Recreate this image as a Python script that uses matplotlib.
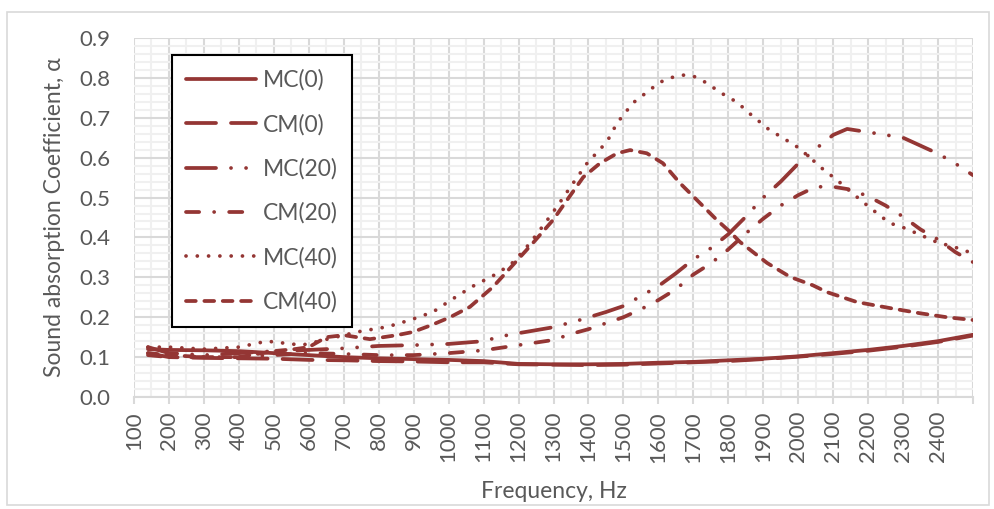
import numpy as np
import matplotlib.pyplot as plt
from matplotlib.ticker import MultipleLocator, FuncFormatter
from matplotlib.patches import Rectangle

plt.rcParams['font.family'] = ['Lato', 'DejaVu Sans']

# valeurs (frequence en Hz, coefficient alpha)
f_mc0 = [140, 200, 300, 400, 500, 600, 700, 800, 900, 1000, 1100, 1200, 1300, 1400, 1500,
         1600, 1700, 1800, 1900, 2000, 2100, 2200, 2300, 2400, 2500]
a_mc0 = [0.120, 0.118, 0.117, 0.115, 0.110, 0.105, 0.100, 0.097, 0.095, 0.093, 0.090, 0.083,
         0.082, 0.082, 0.083, 0.086, 0.088, 0.092, 0.096, 0.102, 0.110, 0.118, 0.128, 0.140, 0.156]

f_cm0 = [140, 200, 300, 400, 500, 600, 700, 800, 900, 1000, 1100, 1200, 1300, 1400, 1500,
         1600, 1700, 1800, 1900, 2000, 2100, 2200, 2300, 2400, 2500]
a_cm0 = [0.110, 0.100, 0.098, 0.097, 0.096, 0.093, 0.092, 0.090, 0.089, 0.087, 0.087, 0.082,
         0.081, 0.080, 0.081, 0.084, 0.087, 0.090, 0.095, 0.101, 0.108, 0.116, 0.126, 0.138, 0.154]

f_mc20 = [140, 200, 300, 400, 500, 600, 700, 800, 900, 1000, 1100, 1150, 1200, 1300, 1375,
          1450, 1500, 1550, 1600, 1650, 1700, 1750, 1800, 1850, 1900, 1950, 2000, 2050, 2100,
          2140, 2200, 2250, 2300, 2350, 2400, 2450, 2500]
a_mc20 = [0.125, 0.110, 0.105, 0.110, 0.115, 0.118, 0.122, 0.128, 0.130, 0.133, 0.140, 0.152,
          0.160, 0.175, 0.193, 0.213, 0.228, 0.253, 0.278, 0.310, 0.345, 0.373, 0.408, 0.452,
          0.500, 0.540, 0.585, 0.622, 0.657, 0.672, 0.664, 0.657, 0.650, 0.630, 0.610, 0.585, 0.556]

f_cm20 = [140, 200, 300, 400, 500, 600, 700, 800, 900, 1000, 1100, 1200, 1300, 1350, 1400,
          1450, 1500, 1550, 1600, 1650, 1700, 1750, 1800, 1850, 1900, 1950, 2000, 2050, 2100,
          2150, 2200, 2250, 2300, 2350, 2400, 2450, 2500]
a_cm20 = [0.105, 0.100, 0.100, 0.100, 0.105, 0.110, 0.108, 0.105, 0.105, 0.110, 0.117, 0.130,
          0.143, 0.158, 0.170, 0.185, 0.200, 0.220, 0.243, 0.270, 0.307, 0.335, 0.370, 0.410,
          0.447, 0.480, 0.506, 0.527, 0.527, 0.520, 0.503, 0.480, 0.452, 0.420, 0.395, 0.363, 0.338]

f_mc40 = [140, 200, 300, 400, 480, 530, 580, 620, 700, 750, 825, 890, 955, 1010, 1070, 1140,
          1185, 1233, 1276, 1313, 1356, 1396, 1453, 1482, 1527, 1567, 1604, 1642, 1670, 1699,
          1739, 1776, 1825, 1862, 1917, 1957, 1997, 2034, 2071, 2111, 2148, 2185, 2225, 2262,
          2300, 2340, 2397, 2450, 2500]
a_mc40 = [0.125, 0.125, 0.120, 0.125, 0.140, 0.135, 0.130, 0.138, 0.155, 0.165, 0.176, 0.193,
          0.213, 0.245, 0.278, 0.310, 0.338, 0.386, 0.436, 0.481, 0.536, 0.586, 0.640, 0.687,
          0.737, 0.764, 0.789, 0.802, 0.807, 0.805, 0.787, 0.764, 0.739, 0.710, 0.670, 0.649,
          0.627, 0.600, 0.571, 0.544, 0.516, 0.489, 0.461, 0.436, 0.425, 0.410, 0.388, 0.375, 0.360]

f_cm40 = [140, 200, 300, 400, 500, 560, 600, 650, 700, 775, 852, 898, 950, 1004, 1061, 1127,
          1184, 1241, 1299, 1339, 1385, 1433, 1482, 1519, 1567, 1613, 1662, 1710, 1767, 1805,
          1833, 1911, 1977, 2042, 2082, 2168, 2262, 2348, 2425, 2500]
a_cm40 = [0.110, 0.105, 0.100, 0.100, 0.115, 0.120, 0.125, 0.150, 0.155, 0.145, 0.155, 0.163,
          0.180, 0.200, 0.226, 0.276, 0.331, 0.386, 0.444, 0.494, 0.551, 0.586, 0.611, 0.619,
          0.611, 0.586, 0.536, 0.494, 0.444, 0.414, 0.389, 0.336, 0.301, 0.280, 0.263, 0.238,
          0.223, 0.210, 0.200, 0.193]

noms = ['MC(0)', 'CM(0)', 'MC(20)', 'CM(20)', 'MC(40)', 'CM(40)']

rouge = '#943634'
gris = '#595959'
taille = 16

fig = plt.figure(figsize=(9.94, 5.09), dpi=100)
ax = fig.add_axes([134 / 994, 1 - 397 / 509, (973 - 134) / 994, (397 - 38) / 509])

# cadre exterieur du graphique
fig.patches.append(Rectangle((7 / 994, 1 - 505 / 509), 982 / 994, 493 / 509,
                             transform=fig.transFigure, fill=False,
                             edgecolor='#d9d9d9', linewidth=1.2))

lw = 2.7
series = [
    (f_mc0, a_mc0, None),
    (f_cm0, a_cm0, (8, 4)),
    (f_mc20, a_mc20, (8, 4, 0.01, 4, 0.01, 4)),
    (f_cm20, a_cm20, (3.5, 4, 0.01, 4)),
    (f_mc40, a_mc40, (0.01, 3.0)),
    (f_cm40, a_cm40, (2.6, 2.3)),
]
for (f, a, motif), nom in zip(series, noms):
    line, = ax.plot(f, a, color=rouge, lw=lw, label=nom,
                    solid_capstyle='round', dash_capstyle='round')
    if motif is not None:
        line.set_dashes(motif)

ax.set_xlim(100, 2500)
ax.set_ylim(0, 0.9)
ax.xaxis.set_major_locator(MultipleLocator(100))
ax.xaxis.set_minor_locator(MultipleLocator(50))
ax.yaxis.set_major_locator(MultipleLocator(0.1))
ax.yaxis.set_minor_locator(MultipleLocator(0.02))
ax.xaxis.set_major_formatter(FuncFormatter(lambda v, p: '' if v > 2450 else '%d' % v))
ax.yaxis.set_major_formatter(FuncFormatter(lambda v, p: '%.1f' % v))

ax.grid(which='minor', color='#f0f0f0', lw=1.5)
ax.grid(which='major', color='#d9d9d9', lw=1.5)
ax.set_axisbelow(True)
for s in ['top', 'right', 'left']:
    ax.spines[s].set_visible(False)
ax.spines['bottom'].set_color('#d9d9d9')
ax.spines['bottom'].set_linewidth(1.5)

ax.tick_params(axis='x', which='major', length=5, color='#d9d9d9', width=1.5,
               labelsize=taille, labelcolor=gris, labelrotation=90, pad=5)
ax.tick_params(axis='x', which='minor', length=0)
ax.tick_params(axis='y', which='both', length=0, labelsize=taille, labelcolor=gris, pad=17)

ax.set_xlabel('Frequency, Hz', fontsize=16.5, color=gris, labelpad=13)
ax.set_ylabel('Sound absorption Coefficient, α', fontsize=16.5, color=gris, labelpad=10)

leg = ax.legend(loc='upper left', bbox_to_anchor=(172 / 994, 1 - 55 / 509),
                bbox_transform=fig.transFigure, borderaxespad=0, fontsize=16.5,
                handlelength=3.05, labelspacing=1.0, borderpad=0.62, handletextpad=0.3,
                fancybox=False, framealpha=1, edgecolor='black', labelcolor=gris)
leg.get_frame().set_linewidth(1.5)

fig.savefig('out.png', dpi=100)
